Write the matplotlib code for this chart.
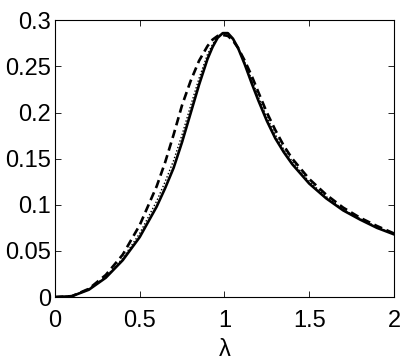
import matplotlib
matplotlib.use("Agg")
import matplotlib.pyplot as plt

plt.rcParams['font.family'] = ['Liberation Sans', 'DejaVu Sans']

lam = [0, 0.1, 0.2, 0.3, 0.4, 0.5, 0.6, 0.65, 0.7, 0.75, 0.8, 0.85, 0.9, 0.93, 0.96,
       0.99, 1.02, 1.05, 1.08, 1.12, 1.16, 1.2, 1.25, 1.3, 1.35, 1.4, 1.5, 1.6,
       1.7, 1.8, 1.9, 2.0]

solid = [0, 0.001, 0.008, 0.021, 0.040, 0.065, 0.098, 0.118, 0.140, 0.168, 0.199,
         0.230, 0.258, 0.271, 0.281, 0.286, 0.286, 0.280, 0.270, 0.252, 0.232,
         0.213, 0.191, 0.172, 0.157, 0.144, 0.123, 0.107, 0.094, 0.084, 0.075, 0.068]

dashed = [0, 0.001, 0.009, 0.024, 0.046, 0.078, 0.120, 0.146, 0.176, 0.208, 0.234,
          0.256, 0.272, 0.279, 0.283, 0.284, 0.283, 0.278, 0.270, 0.256, 0.240,
          0.222, 0.200, 0.181, 0.164, 0.150, 0.128, 0.111, 0.097, 0.086, 0.077, 0.069]

dotted = [0, 0.001, 0.009, 0.022, 0.042, 0.069, 0.104, 0.125, 0.148, 0.176, 0.207,
          0.237, 0.263, 0.274, 0.282, 0.286, 0.285, 0.279, 0.270, 0.254, 0.236,
          0.217, 0.195, 0.176, 0.160, 0.147, 0.125, 0.109, 0.095, 0.085, 0.076, 0.068]

fig = plt.figure(figsize=(4.07, 3.61), dpi=100)
ax = fig.add_axes([0.135, 0.177, 0.833, 0.767])

ax.plot(lam, dotted, color='black', linestyle=(0, (1, 1.5)), linewidth=1.0)
ax.plot(lam, dashed, color='black', linestyle=(0, (3.2, 1.8)), linewidth=1.9)
ax.plot(lam, solid, color='black', linestyle='-', linewidth=1.9)

ax.set_xlim(0, 2)
ax.set_ylim(0, 0.3)
ax.set_xticks([0, 0.5, 1, 1.5, 2])
ax.set_xticklabels(['0', '0.5', '1', '1.5', '2'])
ax.set_yticks([0, 0.05, 0.1, 0.15, 0.2, 0.25, 0.3])
ax.set_yticklabels(['0', '0.05', '0.1', '0.15', '0.2', '0.25', '0.3'])
ax.tick_params(direction='in', top=True, right=True, labelsize=17, length=4, width=0.6)
ax.tick_params(axis='x', pad=9)
ax.tick_params(axis='y', pad=3)
for s in ax.spines.values():
    s.set_linewidth(0.8)
ax.set_xlabel('λ', fontsize=17, labelpad=5)

fig.savefig('out.png', dpi=100)
